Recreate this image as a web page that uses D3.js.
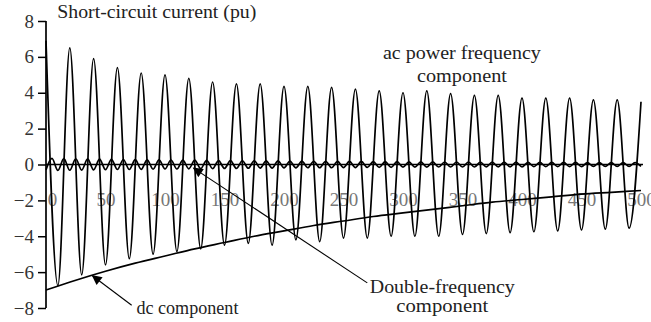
<!DOCTYPE html>
<html><head><meta charset="utf-8">
<script src="https://cdn.jsdelivr.net/npm/d3@7"></script>
<style>body{margin:0;background:#fff}svg{display:block}</style>
</head><body><svg id="c" width="651" height="322"></svg>
<script>
// ---- data (time in ms, current in pu) ----
const xTicks = [0, 50, 100, 150, 200, 250, 300, 350, 400, 450, 500];
const yTicks = [-8, -6, -4, -2, 0, 2, 4, 6, 8];

// ac power-frequency component: extremes every half cycle (10 ms)
const acTimes = d3.range(0, 501, 10);
const acValues = [6.9, -6.75, 6.5, -6.15, 5.9, -5.6, 5.4, -5.25, 5.1, -5.0,
  5.0, -4.85, 4.8, -4.7, 4.6, -4.5, 4.5, -4.4, 4.5, -4.5,
  4.35, -4.2, 4.35, -4.3, 4.3, -4.1, 4.2, -4.1, 4.1, -4.0,
  4.0, -4.0, 4.1, -4.0, 3.95, -3.9, 3.85, -3.85, 3.85, -3.8,
  3.7, -3.75, 3.7, -3.7, 3.7, -3.65, 3.6, -3.6, 3.6, -3.55, 3.5];

// dc component
const dcTimes = d3.range(0, 501, 25);
const dcValues = [-7.0, -6.45, -5.95, -5.5, -5.1, -4.7, -4.35, -4.0, -3.7, -3.4,
  -3.15, -2.9, -2.7, -2.5, -2.3, -2.1, -1.95, -1.8, -1.65, -1.55, -1.45];

// double-frequency component: extremes every 5 ms
const dfTimes = d3.range(0, 501, 5);
const dfValues = [
  -0.30, 0.34, -0.33, 0.33, -0.32, 0.32, -0.31, 0.31, -0.30, 0.30,
  -0.29, 0.29, -0.28, 0.28, -0.28, 0.27, -0.27, 0.26, -0.26, 0.26,
  -0.25, 0.25, -0.25, 0.24, -0.24, 0.24, -0.23, 0.23, -0.23, 0.22,
  -0.22, 0.22, -0.22, 0.21, -0.21, 0.21, -0.20, 0.20, -0.20, 0.20,
  -0.19, 0.19, -0.19, 0.19, -0.18, 0.18, -0.18, 0.18, -0.18, 0.17,
  -0.17, 0.17, -0.17, 0.17, -0.16, 0.16, -0.16, 0.16, -0.16, 0.16,
  -0.15, 0.15, -0.15, 0.15, -0.15, 0.15, -0.14, 0.14, -0.14, 0.14,
  -0.14, 0.14, -0.14, 0.13, -0.13, 0.13, -0.13, 0.13, -0.13, 0.13,
  -0.13, 0.12, -0.12, 0.12, -0.12, 0.12, -0.12, 0.12, -0.12, 0.12,
  -0.12, 0.11, -0.11, 0.11, -0.11, 0.11, -0.11, 0.11, -0.11, 0.11,
  -0.11];

// annotations
const titleText = "Short-circuit current (pu)";
const acLabel = ["ac power frequency", "component"];
const dfLabel = ["Double-frequency", "component"];
const dcLabel = "dc component";

// ---- drawing ----
const svg = d3.select("#c");
const x = d3.scaleLinear().domain([0, 500]).range([46, 641]);
const y = d3.scaleLinear().domain([-8, 8]).range([308, 21]);
const FONT = "'Liberation Serif', 'Times New Roman', serif";
const fmt = d => d < 0 ? "\u2212" + Math.abs(d) : String(d);

// x axis labels (under the curves)
const xAxis = svg.append("g")
  .attr("transform", `translate(0,${y(0)})`)
  .call(d3.axisBottom(x).tickValues(xTicks).tickSize(0).tickPadding(28).tickFormat(d => d));
xAxis.select(".domain").remove();
xAxis.selectAll("text").attr("font-family", FONT).attr("font-size", 19).attr("fill", "#777")
  .attr("dx", d => d === 0 ? 6 : 0);

const line = d3.line().curve(d3.curveMonotoneX);

// ac component
svg.append("path")
  .attr("d", line(acTimes.map((t, i) => [x(t), y(acValues[i])])))
  .attr("fill", "none").attr("stroke", "#000").attr("stroke-width", 1.7);

// dc component
svg.append("path")
  .attr("d", line(dcTimes.map((t, i) => [x(t), y(dcValues[i])])))
  .attr("fill", "none").attr("stroke", "#000").attr("stroke-width", 1.7);

// zero line
svg.append("line").attr("x1", x(0)).attr("x2", x(500) + 2).attr("y1", y(0)).attr("y2", y(0))
  .attr("stroke", "#000").attr("stroke-width", 1.6);

// double-frequency component
svg.append("path")
  .attr("d", line(dfTimes.map((t, i) => [x(t), y(dfValues[i])])))
  .attr("fill", "none").attr("stroke", "#000").attr("stroke-width", 1.7);

// y axis
const yAxis = svg.append("g")
  .attr("transform", `translate(${x(0)},0)`)
  .call(d3.axisLeft(y).tickValues(yTicks).tickSize(8).tickPadding(4).tickFormat(fmt));
yAxis.select(".domain").attr("stroke-width", 1.7).attr("d", `M0,${y(8)}V${y(-8)}`);
yAxis.selectAll(".tick line").attr("stroke-width", 1.5);
yAxis.selectAll("text").attr("font-family", FONT).attr("font-size", 19).attr("fill", "#333");

// arrow marker
svg.append("defs").append("marker")
  .attr("id", "ah").attr("viewBox", "0 0 10 10").attr("refX", 9).attr("refY", 5)
  .attr("markerWidth", 12).attr("markerHeight", 10).attr("markerUnits", "userSpaceOnUse")
  .attr("orient", "auto")
  .append("path").attr("d", "M0,0L10,5L0,10Z").attr("fill", "#000");

function arrow(t1, v1, t2, v2) {
  svg.append("line")
    .attr("x1", x(t1)).attr("y1", y(v1)).attr("x2", x(t2)).attr("y2", y(v2))
    .attr("stroke", "#000").attr("stroke-width", 1.1).attr("marker-end", "url(#ah)");
}
arrow(72, -7.85, 39, -6.2);     // dc component
arrow(270, -6.6, 124, -0.2);    // double frequency

function label(txt, t, v, anchor, len) {
  const el = svg.append("text").attr("x", x(t)).attr("y", y(v))
    .attr("text-anchor", anchor).attr("font-family", FONT).attr("font-size", 18)
    .attr("fill", "#222").text(txt);
  if (len) el.attr("textLength", len).attr("lengthAdjust", "spacingAndGlyphs");
}
label(titleText, 9.5, 8.15, "start", 199);
label(acLabel[0], 349.5, 5.9, "middle", 158);
label(acLabel[1], 349.5, 4.6, "middle", 90);
label(dfLabel[0], 333, -7.15, "middle", 145);
label(dfLabel[1], 333, -8.2, "middle", 92);
label(dcLabel, 76, -8.33, "start", 102);
</script></body></html>
